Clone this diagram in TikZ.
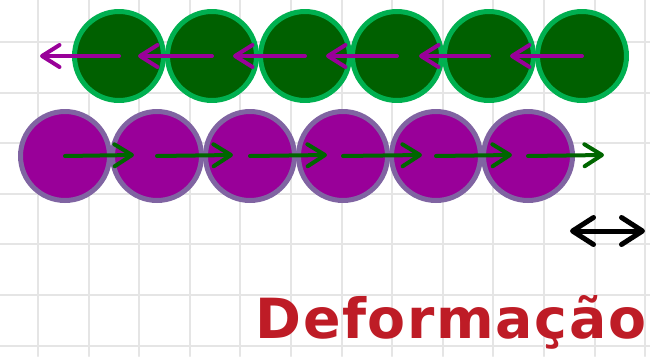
\documentclass[tikz,border=0pt]{standalone}
\usepackage{fontspec}
\newfontfamily\titlefont[LetterSpace=3]{DejaVu Sans}
\usetikzlibrary{arrows.meta}

\definecolor{ballgreen}{HTML}{006000}
\definecolor{ringgreen}{HTML}{00B050}
\definecolor{ballpurple}{HTML}{990099}
\definecolor{ringpurple}{HTML}{8064A2}
\definecolor{arrowgreen}{HTML}{006600}
\definecolor{titlered}{HTML}{BE1C26}

\tikzset{
  gridline/.style={black!10, line width=1.2pt},
  greenball/.style={circle, inner sep=0pt, minimum size=1.78cm, line width=0.1cm,
    fill=ballgreen, draw=ringgreen},
  purpleball/.style={circle, inner sep=0pt, minimum size=1.78cm, line width=0.1cm,
    fill=ballpurple, draw=ringpurple},
  pushleft/.style={->, line width=0.08cm, ballpurple},
  pushright/.style={->, line width=0.08cm, arrowgreen},
  stretch/.style={{Straight Barb[length=4.2mm,width=5.4mm,line width=0pt 1,round]}-{Straight Barb[length=4.2mm,width=5.4mm,line width=0pt 1,round]},
    line width=0.1cm, black},
  title/.style={font=\titlefont\bfseries\fontsize{31.5pt}{34pt}\selectfont, text=titlered, inner sep=0pt}
}

\begin{document}
\begin{tikzpicture}[x=0.02cm, y=-0.02cm, >={Straight Barb[length=3.5mm,width=4.4mm,line width=0pt 1,round]}, line cap=round]
  \useasboundingbox (0,0) rectangle (650,356);

  % background grid
  \foreach \gx in {0,...,12}
    \draw[gridline] ({38+50.6*\gx},0) -- ({38+50.6*\gx},356);
  \foreach \gy in {0,...,6}
    \draw[gridline] (0,{42+50.6*\gy}) -- (650,{42+50.6*\gy});

  % upper row
  \node[greenball] (g1) at (119,56) {};
  \node[greenball] (g2) at (212,56) {};
  \node[greenball] (g3) at (305,56) {};
  \node[greenball] (g4) at (397,56) {};
  \node[greenball] (g5) at (489,56) {};
  \node[greenball] (g6) at (582,56) {};

  % lower row
  \node[purpleball] (p1) at (65,156) {};
  \node[purpleball] (p2) at (157,156) {};
  \node[purpleball] (p3) at (250,156) {};
  \node[purpleball] (p4) at (343,156) {};
  \node[purpleball] (p5) at (436,156) {};
  \node[purpleball] (p6) at (528,156) {};

  \coordinate (g1end) at (40,56);
  \coordinate (g2end) at (138,56);
  \coordinate (g3end) at (233,56);
  \coordinate (g4end) at (326,56);
  \coordinate (g5end) at (419,56);
  \coordinate (g6end) at (510,56);

  \coordinate (p1end) at (134,155);
  \coordinate (p2end) at (233,155);
  \coordinate (p3end) at (327,155);
  \coordinate (p4end) at (422,155);
  \coordinate (p5end) at (512,155);
  \coordinate (p6end) at (604,155);

  \draw[pushleft] (g1.center) -- (g1end);
  \draw[pushleft] (g2.center) -- (g2end);
  \draw[pushleft] (g3.center) -- (g3end);
  \draw[pushleft] (g4.center) -- (g4end);
  \draw[pushleft] (g5.center) -- (g5end);
  \draw[pushleft] (g6.center) -- (g6end);

  \draw[pushright] (p1.center) -- (p1end);
  \draw[pushright] (p2.center) -- (p2end);
  \draw[pushright] (p3.center) -- (p3end);
  \draw[pushright] (p4.center) -- (p4end);
  \draw[pushright] (p5.center) -- (p5end);
  \draw[pushright] (p6.center) -- (p6end);

  % size change
  \coordinate (sa) at (570,231);
  \coordinate (sb) at (645,231);
  \draw[stretch] (sa) -- (sb);

  \node[title, anchor=base] (caption) at (451,338) {Deformação};
\end{tikzpicture}
\end{document}
